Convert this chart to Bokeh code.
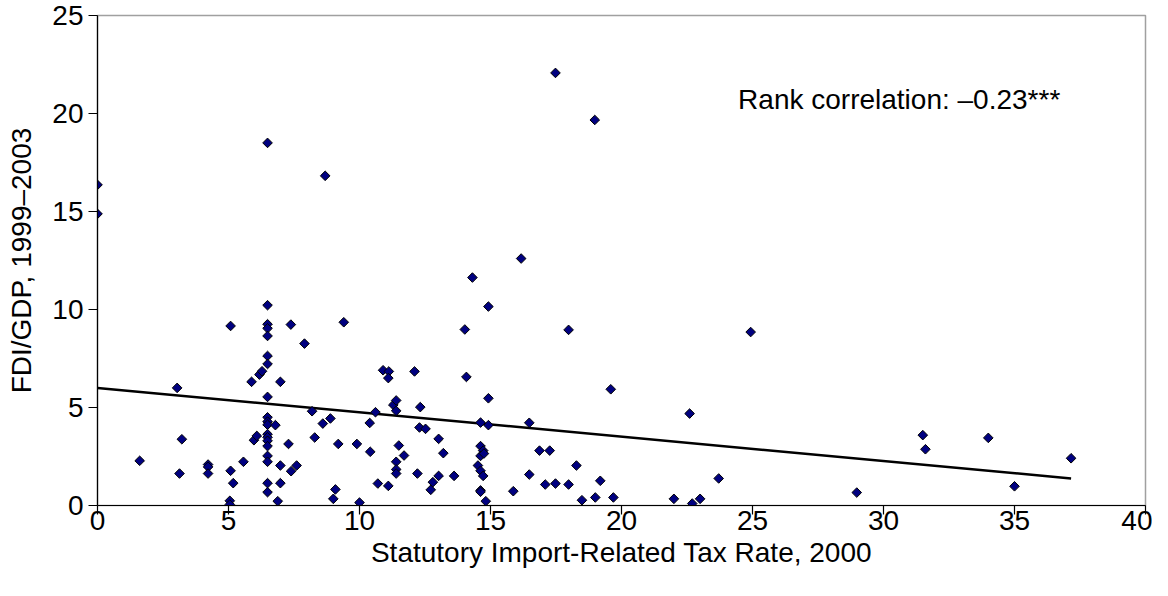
import math
from bokeh.plotting import figure
from bokeh.models import Range1d, Label, FixedTicker, ColumnDataSource
from bokeh.embed import file_html
from bokeh.resources import INLINE

# ---- data ----
tax_rate = [
    0.0, 0.0, 1.61, 3.04, 3.13, 3.22, 4.22, 4.22, 4.22,
    5.08, 5.08, 5.18, 5.05, 5.05, 5.57, 5.88, 5.97, 6.08, 6.18, 6.28,
    6.49, 6.49, 6.49, 6.49, 6.49, 6.49, 6.49, 6.49, 6.49, 6.49,
    6.49, 6.49, 6.49, 6.49, 6.49, 6.49, 6.49, 6.49, 6.49,
    6.79, 6.88, 6.98, 6.98, 6.98, 7.29, 7.38, 7.39, 7.60, 7.90,
    8.19, 8.29, 8.60, 8.69, 8.89, 9.00, 9.08, 9.19, 9.40, 9.90,
    10.00, 10.39, 10.41, 10.61, 10.70, 10.90, 11.10, 11.12, 11.10,
    11.29, 11.40, 11.40, 11.40, 11.40, 11.40, 11.50, 11.70,
    12.10, 12.21, 12.29, 12.32, 12.52, 12.72, 12.80, 13.02, 13.02,
    13.20, 13.61, 14.02, 14.08, 14.31, 14.52, 14.62, 14.72, 14.62,
    14.62, 14.72, 14.62, 14.75, 14.62, 14.62, 14.82, 14.92, 14.92,
    14.92, 15.87, 16.17, 16.48, 16.48, 16.87, 17.09, 17.26, 17.48,
    17.48, 17.98, 17.98, 18.28, 18.49, 18.98, 19.00, 19.19, 19.59,
    19.69, 22.00, 22.60, 22.70, 23.00, 23.71, 24.93, 28.98, 31.50,
    31.60, 34.00, 35.00, 37.16,
]
fdi_gdp = [
    16.36, 14.88, 2.28, 6.00, 1.63, 3.38, 2.09, 1.97, 1.63,
    9.16, 1.77, 1.14, 0.24, 0.05, 2.23, 6.31, 3.33, 3.55, 6.68, 6.85,
    18.50, 10.22, 9.25, 9.04, 8.65, 7.63, 7.22, 5.54, 4.50, 4.28,
    4.12, 3.64, 3.48, 3.30, 3.03, 2.53, 2.23, 1.14, 0.68,
    4.10, 0.22, 6.31, 2.04, 1.14, 3.14, 9.23, 1.75, 2.04, 8.26,
    4.81, 3.47, 4.18, 16.82, 4.44, 0.34, 0.82, 3.14, 9.35, 3.14,
    0.15, 4.21, 2.74, 4.76, 1.12, 6.90, 1.00, 6.84, 6.50,
    5.13, 5.36, 4.83, 2.23, 1.84, 1.63, 3.06, 2.55,
    6.84, 1.63, 3.98, 5.02, 3.91, 0.80, 1.19, 1.51, 3.40,
    2.67, 1.51, 8.98, 6.56, 11.63, 2.04, 1.77, 1.51, 4.23,
    3.03, 2.80, 2.53, 2.65, 0.77, 0.70, 0.22, 10.15, 5.47,
    4.10, 0.73, 12.60, 4.22, 1.58, 2.80, 1.07, 2.80, 1.12,
    22.07, 8.96, 1.07, 2.04, 0.27, 19.67, 0.41, 1.26, 5.93,
    0.41, 0.34, 4.69, 0.10, 0.34, 1.38, 8.85, 0.66, 3.59,
    2.87, 3.45, 0.98, 2.41,
]
trend_x = [0.0, 37.16]
trend_y = [6.0, 1.38]
x_ticks = [0, 5, 10, 15, 20, 25, 30, 35, 40]
y_ticks = [0, 5, 10, 15, 20, 25]
x_title = "Statutory Import-Related Tax Rate, 2000"
y_title = "FDI/GDP, 1999\u20132003"
note = "Rank correlation: \u20130.23***"

FONT = "Liberation Sans"
FS = "28px"

p = figure(width=1152, height=580, output_backend="svg", toolbar_location=None,
           x_range=Range1d(0, 40), y_range=Range1d(0, 25),
           min_border_left=97, min_border_right=7, min_border_top=15,
           min_border_bottom=75)
p.grid.visible = False
p.background_fill_color = "white"
p.border_fill_color = "white"
p.outline_line_color = "#a0a0a0"
p.outline_line_width = 1.5

for ax, ticks in ((p.xaxis[0], x_ticks), (p.yaxis[0], y_ticks)):
    ax.ticker = FixedTicker(ticks=ticks)
    ax.axis_line_color = "black"
    ax.axis_line_width = 1.2
    ax.major_tick_line_color = "black"
    ax.major_tick_line_width = 1.2
    ax.major_tick_out = 9
    ax.major_tick_in = 0
    ax.minor_tick_line_color = None
    ax.major_label_text_font = FONT
    ax.major_label_text_font_size = FS
    ax.major_label_text_color = "black"
    ax.axis_label_text_font = FONT
    ax.axis_label_text_font_size = FS
    ax.axis_label_text_font_style = "normal"
    ax.axis_label_text_color = "black"

p.xaxis[0].axis_label = x_title
p.yaxis[0].axis_label = y_title
p.xaxis[0].major_label_standoff = -4
p.xaxis[0].axis_label_standoff = 4
p.yaxis[0].major_label_standoff = 5
p.yaxis[0].axis_label_standoff = 12

p.line(trend_x, trend_y, line_color="black", line_width=2.5)

src = ColumnDataSource(dict(x=tax_rate, y=fdi_gdp))
p.scatter("x", "y", source=src, marker="square", angle=math.pi / 4,
          size=6.8, fill_color="#000080", line_color="black", line_width=1)

p.add_layout(Label(x=24.45, y=20.72, text=note, text_font=FONT,
                   text_font_size=FS, text_color="black",
                   text_baseline="middle", text_align="left"))

open("out.html", "w").write(file_html(p, INLINE))
